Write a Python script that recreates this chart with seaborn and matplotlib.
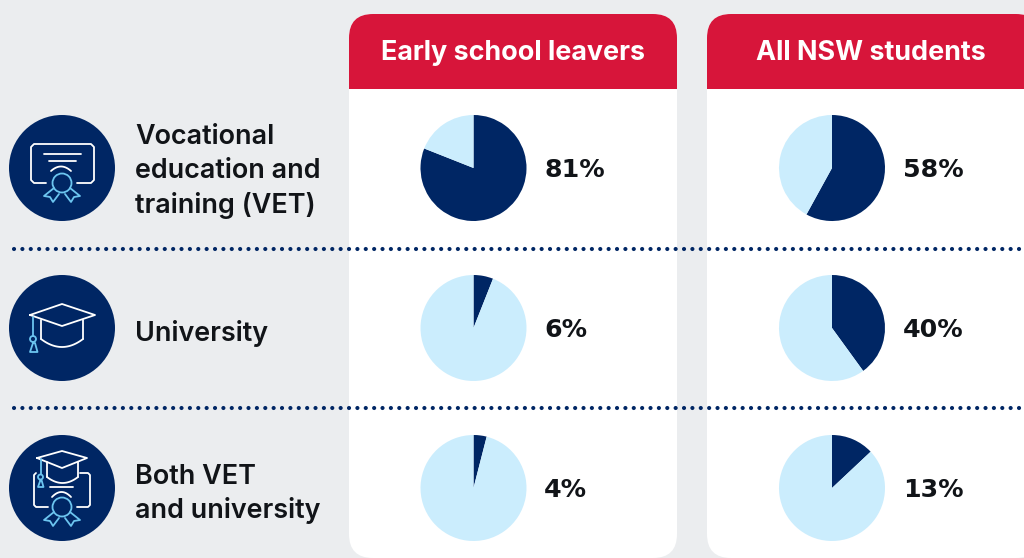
import numpy as np
import matplotlib
matplotlib.use("Agg")
import matplotlib.pyplot as plt
import seaborn as sns
from matplotlib.patches import Circle, FancyBboxPatch, Rectangle

# data
groups = ["Early school leavers", "All NSW students"]
pathways = ["Vocational\neducation and\ntraining (VET)", "University", "Both VET\nand university"]
early_values = [81, 6, 4]
nsw_values = [58, 40, 13]

# colours
navy = "#002664"
sky = "#CBEDFD"
red = "#D7153A"
grey = "#EBEDEF"
icon_blue = "#6CC5F0"
ink = "#111418"

W, H = 1024, 558

sns.set_theme(style="white", palette=sns.color_palette([navy, sky]))
plt.rcParams["font.family"] = ["Inter", "DejaVu Sans"]

fig = plt.figure(figsize=(W / 100, H / 100), dpi=100, facecolor=grey)
ax = fig.add_axes([0, 0, 1, 1])


# everything below is placed in image pixels, y measured from the top
def Y(py):
    return H - py


def stroke(xs, ys, color="white", lw=1.3):
    ax.plot(xs, [Y(v) for v in ys], color=color, lw=lw, solid_capstyle="round",
            solid_joinstyle="round", zorder=6)


def ring(x, y, r, color="white", lw=1.3):
    ax.add_patch(Circle((x, Y(y)), r, fill=False, ec=color, lw=lw, zorder=6))


def curve(x0, x1, y_end, y_mid, color="white", lw=1.3):
    # shallow arc between two points, for hat brims and seals
    t = np.linspace(-1, 1, 30)
    xs = (x0 + x1) / 2 + t * (x1 - x0) / 2
    ys = y_mid + (y_end - y_mid) * t ** 2
    stroke(xs, ys, color, lw)


def medal(x, y, r=9.5):
    ring(x, y, r, icon_blue)
    stroke([x - 8, x - 18, x - 12, x - 9, x - 3], [y + 5, y + 13, y + 14, y + 19, y + 11], icon_blue)
    stroke([x + 8, x + 18, x + 12, x + 9, x + 3], [y + 5, y + 13, y + 14, y + 19, y + 11], icon_blue)


def cert_icon():
    stroke([46, 34, 31, 31, 34, 91, 94, 94, 91, 77], [183, 183, 180, 147, 144, 144, 147, 180, 183, 183])
    stroke([44, 81], [154, 154])
    stroke([49, 76], [161, 161])
    curve(51, 71, 171, 166.5)
    medal(62, 183)


def hat_icon():
    stroke([30, 62, 95, 62, 30], [315, 304, 315, 326, 315])
    stroke([41, 41], [320, 339])
    stroke([83, 83], [320, 339])
    curve(41, 83, 339, 347)
    stroke([33, 33], [317, 336], icon_blue)
    ring(33, 339, 3, icon_blue)
    stroke([33, 30, 37.5, 35, 33], [343, 352, 352, 343, 343], icon_blue)


def both_icon():
    stroke([37, 62, 87, 62, 37], [458, 451, 458, 468, 458])
    stroke([47, 47], [462, 477])
    stroke([78, 78], [462, 477])
    curve(47, 78, 477, 483)
    stroke([41, 41], [459, 474], icon_blue)
    ring(40.5, 477, 2.5, icon_blue)
    stroke([40.5, 38, 43.5, 41.5, 40.5], [480, 487, 487, 480, 480], icon_blue)
    stroke([36, 34, 34, 36, 48], [473, 475, 505, 507, 507])
    stroke([80, 88, 90, 90, 88, 77], [473, 473, 475, 505, 507, 507])
    stroke([50, 73], [487, 487])
    curve(52, 71, 497, 492)
    medal(62, 507)


# cards
card_lefts = [349, 707]
card_right = [677, 1040]
for left, right in zip(card_lefts, card_right):
    ax.add_patch(FancyBboxPatch((left, Y(558)), right - left, 558 - 14,
                                boxstyle="round,pad=0,rounding_size=24", fc="white", ec="none", zorder=1))
    head = FancyBboxPatch((left, Y(200)), right - left, 200 - 14,
                          boxstyle="round,pad=0,rounding_size=24", fc=red, ec="none", zorder=2)
    ax.add_patch(head)
    head.set_clip_path(Rectangle((left, Y(89)), right - left, 89 - 14, transform=ax.transData))

header_x = [513, 871]
for x, name in zip(header_x, groups):
    ax.text(x, Y(52.5), name, color="white", fontsize=19.4, fontweight="bold", ha="center", va="center", zorder=3)

# dotted row separators
for y in [248.5, 407.5]:
    for x0, x1 in [(14, 345), (349, 1024)]:
        ax.plot([x0, x1], [Y(y), Y(y)], color=navy, lw=3, linestyle=(0, (0.01, 2.0)),
                dash_capstyle="round", zorder=4)

# rows
row_y = [168, 328, 488]
label_y = [[136.5, 171.5, 205.5], [333.5], [476.5, 510.5]]
for y, label, ys in zip(row_y, pathways, label_y):
    ax.add_patch(Circle((62, Y(y)), 53, fc=navy, ec="none", zorder=5))
    for line, ly in zip(label.split("\n"), ys):
        ax.text(135, Y(ly), line, color=ink, fontsize=19.4, fontweight="semibold", va="center", zorder=5)

cert_icon()
hat_icon()
both_icon()

# pies
pie_x = [473.5, 832]
value_x = [544, 903]
for x, vx, values in zip(pie_x, value_x, [early_values, nsw_values]):
    for y, value in zip(row_y, values):
        ax.pie([value, 100 - value], colors=[navy, sky], startangle=90, counterclock=False,
               center=(x, Y(y)), radius=53, wedgeprops={"linewidth": 0, "zorder": 5})
        ax.text(vx, Y(y + 2), f"{value}%", color=ink, fontsize=18.2, fontweight="bold",
                family="DejaVu Sans", va="center", zorder=5)

ax.set_xlim(0, W)
ax.set_ylim(0, H)
ax.set_aspect("equal")
ax.axis("off")

fig.savefig("out.png", dpi=100, facecolor=grey)
